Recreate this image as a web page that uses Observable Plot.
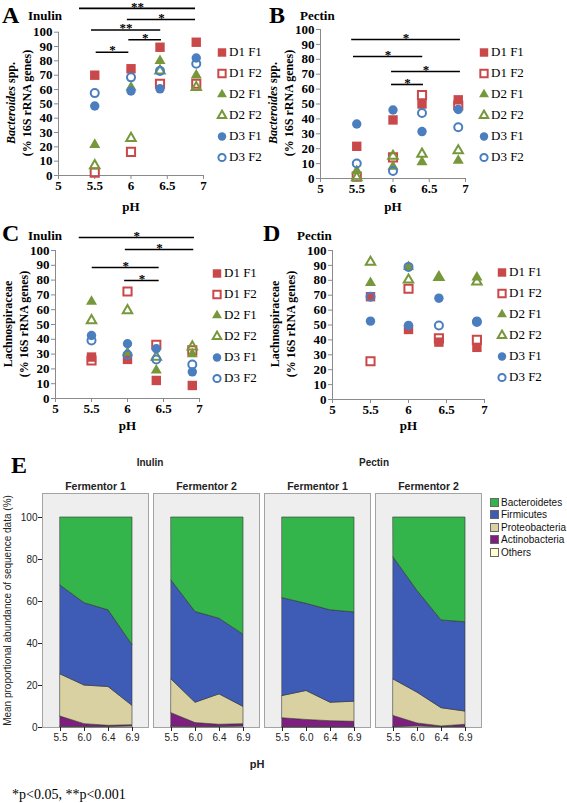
<!DOCTYPE html>
<html>
<head>
<meta charset="utf-8">
<script src="https://cdn.jsdelivr.net/npm/d3@7"></script>
<script src="https://cdn.jsdelivr.net/npm/@observablehq/plot@0.6"></script>
<style>
  html, body { margin: 0; padding: 0; background: #fff; }
  #root { position: relative; width: 567px; height: 803px; overflow: hidden; font-family: "Liberation Serif", "Times New Roman", serif; color: #000; }
  .abs { position: absolute; white-space: nowrap; }
  .letter { font-weight: bold; font-size: 24px; line-height: 24px; }
  .sub { font-weight: bold; font-size: 13px; line-height: 13px; }
  .ytitle { position: absolute; white-space: nowrap; font-weight: bold; font-size: 12px; line-height: 16px; text-align: center; transform: translate(-50%, -50%) rotate(-90deg); }
  .leg { position: absolute; font-size: 13px; }
  .leg .row { height: 21px; display: flex; align-items: center; white-space: nowrap; }
  .leg svg { display: block; margin-right: 1px; }
  .eleg { position: absolute; font-family: "Liberation Sans", Arial, sans-serif; font-size: 10px; color: #111; }
  .eleg .row { height: 12.5px; display: flex; align-items: center; white-space: nowrap; }
  .eleg .sw { width: 9px; height: 9px; border: 1px solid #666; margin-right: 2px; box-sizing: border-box; }
  .sans { font-family: "Liberation Sans", Arial, sans-serif; }
</style>
</head>
<body>
<div id="root"></div>
<script>
// ---------------- data ----------------
const pHs = [5.5, 6.0, 6.4, 6.9];
const seriesNames = ["D1 F1", "D1 F2", "D2 F1", "D2 F2", "D3 F1", "D3 F2"];
const xTicks = [5, 5.5, 6, 6.5, 7];
const yTicks = [0, 10, 20, 30, 40, 50, 60, 70, 80, 90, 100];

// Bacteroides spp. (% 16S rRNA genes), inulin — one row per series, one value per pH
const bacteroidesInulin = [
  [70, 74.5, 89.5, 93],
  [2, 16.5, 64, 64],
  [21.5, 61.5, 80, 70],
  [7, 26, 73, 61.5],
  [48.5, 59, 60.5, 82],
  [57.5, 68.5, 73, 78]
];
// Bacteroides spp., pectin
const bacteroidesPectin = [
  [21.6, 39.3, 50, 52.8],
  [1.3, 14.2, 56, 49],
  [5.2, 8, 11, 12],
  [0.7, 15, 16.4, 18.7],
  [36.6, 46, 31.5, 46.3],
  [10.1, 5, 44, 34.4]
];
// Lachnospiraceae, inulin
const lachnoInulin = [
  [28, 26.4, 12.2, 8.8],
  [25.7, 72.3, 36.3, 32.5],
  [65.5, 31, 19, 30],
  [52.7, 59.5, 28, 35],
  [42.6, 37, 33.6, 18],
  [39.2, 29.5, 26.4, 23]
];
// Lachnospiraceae, pectin
const lachnoPectin = [
  [69, 47, 38.5, 35],
  [25.7, 74.3, 41, 40],
  [78.3, 89, 82, 82],
  [92.2, 80.3, 82, 79],
  [52.6, 49.7, 68, 52.6],
  [69, 89, 49.7, 52]
];

// significance brackets (pH span, level in % units, label)
const sigBactInulin = [
  {x1: 5.29, x2: 6.89, y: 116.6, label: "**"},
  {x1: 5.95, x2: 6.89, y: 108.9, label: "*"},
  {x1: 5.455, x2: 6.41, y: 101.5, label: "**"},
  {x1: 5.97, x2: 6.42, y: 94.7, label: "*"},
  {x1: 5.52, x2: 5.97, y: 86, label: "*"}
];
const sigBactPectin = [
  {x1: 5.43, x2: 6.93, y: 93.3, label: "*"},
  {x1: 5.455, x2: 6.41, y: 81.9, label: "*"},
  {x1: 5.98, x2: 6.93, y: 71.8, label: "*"},
  {x1: 5.98, x2: 6.42, y: 63.1, label: "*"}
];
const sigLachnoInulin = [
  {x1: 5.33, x2: 6.93, y: 108.8, label: "*"},
  {x1: 5.97, x2: 6.92, y: 100.7, label: "*"},
  {x1: 5.51, x2: 6.44, y: 88.5, label: "*"},
  {x1: 5.96, x2: 6.44, y: 79.7, label: "*"}
];

// Panel E: stacked phylum abundances (layer thickness, %), bottom to top
const ePanels = ["Inulin F1", "Inulin F2", "Pectin F1", "Pectin F2"];
const fermentorLabels = ["Fermentor 1", "Fermentor 2", "Fermentor 1", "Fermentor 2"];
const phyla = ["Others", "Actinobacteria", "Proteobacteria", "Firmicutes", "Bacteroidetes"];
const legendPhyla = ["Bacteroidetes", "Firmicutes", "Proteobacteria", "Actinobacteria", "Others"];
const pHCats = ["5.5", "6.0", "6.4", "6.9"];
const inulinF1 = [[0.3, 0.3, 0.3, 0.6], [4.9, 1.3, 0.5, 0.5], [20.1, 18.4, 18.5, 9.2], [42.3, 39.2, 36.5, 28.9], [32.4, 40.8, 44.2, 60.8]];
const inulinF2 = [[0.4, 0.3, 0.3, 0.5], [6.4, 1.8, 1.0, 1.1], [16.1, 9.7, 14.5, 8.2], [47.1, 43.2, 36.0, 34.4], [30.0, 45.0, 48.2, 55.8]];
const pectinF1 = [[0.1, 0.1, 0.1, 0.1], [4.3, 3.5, 2.9, 2.6], [10.6, 13.8, 8.8, 9.6], [46.6, 41.5, 44.0, 42.5], [38.4, 41.1, 44.2, 45.2]];
const pectinF2 = [[0.2, 0.6, 0.2, 0.2], [5.3, 1.3, 0.3, 1.1], [17.4, 14.7, 8.7, 6.3], [58.1, 48.4, 41.8, 42.5], [19.0, 35.0, 49.0, 49.9]];

// ---------------- styles ----------------
const RED = "#c9494a", GREEN = "#76983a", BLUE = "#4a7ebf";
const seriesStyle = [
  {symbol: "square", color: RED, open: false, r: 5.3},
  {symbol: "square", color: RED, open: true, r: 4.6},
  {symbol: "triangle", color: GREEN, open: false, r: 4.1},
  {symbol: "triangle", color: GREEN, open: true, r: 3.5},
  {symbol: "circle", color: BLUE, open: false, r: 4.7},
  {symbol: "circle", color: BLUE, open: true, r: 4.0}
];
const phylumColors = ["#ffffd2", "#7e1f80", "#d9d1a2", "#3e5cb6", "#33b54b"];
const axisGray = "#8a8a8a";

const root = document.getElementById("root");
function put(node, left, top) {
  node.style.position = "absolute";
  node.style.left = left + "px";
  node.style.top = top + "px";
  root.appendChild(node);
  return node;
}
function textDiv(html, cls, left, top) {
  const d = document.createElement("div");
  d.className = "abs " + cls;
  d.innerHTML = html;
  return put(d, left, top);
}
function yTitle(html, cx, cy) {
  const d = document.createElement("div");
  d.className = "ytitle";
  d.innerHTML = html;
  d.style.left = cx + "px";
  d.style.top = cy + "px";
  root.appendChild(d);
}

function scatter({left, top, width, height, px5, px7, py100, py0, values, bars, labelOffset}) {
  const rows = [];
  values.forEach((arr, i) => arr.forEach((v, j) => rows.push({series: seriesNames[i], ph: pHs[j], v})));
  const marks = [
    Plot.axisY({ticks: yTicks, tickSize: 4, tickPadding: 2, stroke: axisGray, fill: "#000", label: null}),
    Plot.axisX({ticks: xTicks, tickSize: 4, tickPadding: 1, tickFormat: d => String(d), stroke: axisGray, fill: "#000",
      label: "pH", labelAnchor: "center", labelArrow: "none", labelOffset}),
    Plot.ruleX([5], {stroke: axisGray}),
    Plot.ruleY([0], {stroke: axisGray})
  ];
  seriesNames.forEach((name, i) => {
    const st = seriesStyle[i];
    marks.push(Plot.dot(rows.filter(d => d.series === name), {
      x: "ph", y: "v", symbol: st.symbol, r: st.r,
      fill: st.open ? "none" : st.color,
      stroke: st.open ? st.color : "none",
      strokeWidth: st.open ? 2 : 0
    }));
  });
  if (bars) {
    marks.push(Plot.ruleY(bars, {x1: "x1", x2: "x2", y: "y", stroke: "#000", strokeWidth: 1.6}));
    marks.push(Plot.text(bars, {x: d => (d.x1 + d.x2) / 2, y: "y", text: "label", dy: -2, fontSize: 13, fontWeight: "bold"}));
  }
  const svg = Plot.plot({
    width, height,
    marginLeft: px5 - left, marginRight: left + width - px7,
    marginTop: py100 - top, marginBottom: top + height - py0,
    x: {domain: [5, 7]},
    y: {domain: [0, 100]},
    style: {fontFamily: '"Liberation Serif", "Times New Roman", serif', fontSize: "13px", fontWeight: "bold", color: "#000"},
    marks
  });
  svg.style.background = "none";
  svg.style.overflow = "visible";
  svg.style.maxWidth = "none";
  put(svg, left, top);
}

function scatterLegend(left, top) {
  const div = document.createElement("div");
  div.className = "leg";
  const symMap = {square: d3.symbolSquare, triangle: d3.symbolTriangle, circle: d3.symbolCircle};
  seriesNames.forEach((name, i) => {
    const st = seriesStyle[i];
    const row = document.createElement("div");
    row.className = "row";
    const svg = d3.create("svg").attr("width", 12).attr("height", 12);
    const r = st.r * 0.9;
    svg.append("path")
      .attr("transform", "translate(6,6.5)")
      .attr("d", d3.symbol(symMap[st.symbol], Math.PI * r * r)())
      .attr("fill", st.open ? "none" : st.color)
      .attr("stroke", st.open ? st.color : "none")
      .attr("stroke-width", st.open ? 2 : 0);
    row.appendChild(svg.node());
    row.appendChild(document.createTextNode(name));
    div.appendChild(row);
  });
  put(div, left, top);
}

// ---------------- Panel A ----------------
textDiv("A", "letter", 2, 3);
textDiv("Inulin", "sub", 28, 9);
yTitle("<i>Bacteroides</i> spp.<br>(% 16S rRNA genes)", 19, 103);
scatter({left: 0, top: 0, width: 215, height: 220, px5: 58, px7: 203, py100: 31.7, py0: 175, values: bacteroidesInulin, bars: sigBactInulin, labelOffset: 35});
scatterLegend(216, 41.5);

// ---------------- Panel B ----------------
textDiv("B", "letter", 269, 3);
textDiv("Pectin", "sub", 300, 9);
yTitle("<i>Bacteroides</i> spp.<br>(% 16S rRNA genes)", 281, 103);
scatter({left: 262, top: 0, width: 215, height: 220, px5: 320, px7: 465, py100: 29, py0: 178, values: bacteroidesPectin, bars: sigBactPectin, labelOffset: 32});
scatterLegend(478, 41.5);

// ---------------- Panel C ----------------
textDiv("C", "letter", 2, 221);
textDiv("Inulin", "sub", 28, 229);
yTitle("Lachnospiraceae<br>(% 16S rRNA genes)", 16, 324);
scatter({left: 0, top: 195, width: 215, height: 245, px5: 55, px7: 199, py100: 250, py0: 398, values: lachnoInulin, bars: sigLachnoInulin, labelOffset: 31});
scatterLegend(211, 262.5);

// ---------------- Panel D ----------------
textDiv("D", "letter", 263, 221);
textDiv("Pectin", "sub", 297, 229);
yTitle("Lachnospiraceae<br>(% 16S rRNA genes)", 283, 324);
scatter({left: 272, top: 195, width: 225, height: 245, px5: 332, px7: 484, py100: 250, py0: 399, values: lachnoPectin, bars: null, labelOffset: 30});
scatterLegend(496, 261.5);

// ---------------- Panel E ----------------
textDiv("E", "letter", 11, 453);
const gI = textDiv("Inulin", "sans", 150, 457); gI.style.fontWeight = "bold"; gI.style.fontSize = "10px"; gI.style.transform = "translateX(-50%)"; gI.style.color = "#222";
const gP = textDiv("Pectin", "sans", 374, 457); gP.style.fontWeight = "bold"; gP.style.fontSize = "10px"; gP.style.transform = "translateX(-50%)"; gP.style.color = "#222";

const eValues = [inulinF1, inulinF2, pectinF1, pectinF2];
const eRows = [];
ePanels.forEach((p, pi) => eValues[pi].forEach((layer, k) => layer.forEach((v, j) => eRows.push({panel: p, phylum: phyla[k], pH: pHCats[j], v}))));

const eSvg = Plot.plot({
  width: 567, height: 282,
  marginLeft: 42, marginRight: 85, marginTop: 23, marginBottom: 25,
  style: {fontFamily: '"Liberation Sans", Arial, sans-serif', fontSize: "10px", color: "#222"},
  fx: {domain: ePanels, paddingInner: 0.045, paddingOuter: 0},
  x: {type: "point", domain: pHCats, padding: 0, insetLeft: 17, insetRight: 15},
  y: {domain: [0, 100], insetTop: 24},
  color: {domain: phyla, range: phylumColors},
  marks: [
    Plot.frame({fill: "#eeeeee", stroke: "#a3a3a3"}),
    Plot.areaY(eRows, {fx: "panel", x: "pH", y: "v", fill: "phylum", stroke: "#333", strokeWidth: 0.6}),
    Plot.axisFx({anchor: "top", tickSize: 0, tickPadding: 4, label: null, fontWeight: "bold", fontSize: 10.5,
      tickFormat: d => fermentorLabels[ePanels.indexOf(d)]}),
    Plot.axisX({tickSize: 4, tickPadding: 2, label: null}),
    Plot.axisY({ticks: [0, 20, 40, 60, 80, 100], tickSize: 4, tickPadding: 1,
      label: "Mean proportional abundance of sequence data (%)", labelAnchor: "center", labelArrow: "none", labelOffset: 39})
  ]
});
eSvg.style.background = "none";
eSvg.style.overflow = "visible";
eSvg.style.maxWidth = "none";
put(eSvg, 0, 470);

// legend E
const eleg = document.createElement("div");
eleg.className = "eleg";
legendPhyla.forEach(name => {
  const row = document.createElement("div");
  row.className = "row";
  const sw = document.createElement("div");
  sw.className = "sw";
  sw.style.background = phylumColors[phyla.indexOf(name)];
  row.appendChild(sw);
  row.appendChild(document.createTextNode(name));
  eleg.appendChild(row);
});
put(eleg, 490, 496);

const ph = textDiv("pH", "sans", 257, 758); ph.style.fontSize = "11px"; ph.style.fontWeight = "bold"; ph.style.transform = "translateX(-50%)"; ph.style.color = "#222";

textDiv("*p&lt;0.05, **p&lt;0.001", "", 12, 787).style.fontSize = "14px";
</script>
</body>
</html>
